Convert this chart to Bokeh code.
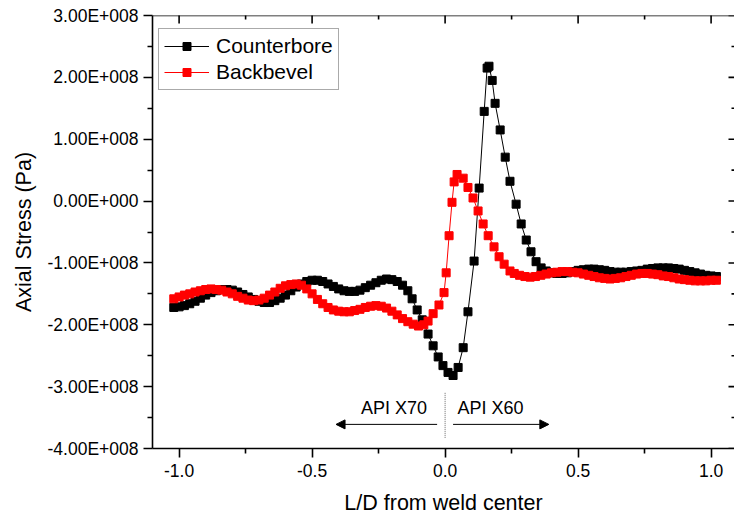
import numpy as np
from bokeh.plotting import figure
from bokeh.models import FixedTicker, Range1d, Arrow, NormalHead, Span
from bokeh.core.properties import value
from bokeh.embed import file_html
from bokeh.resources import INLINE

# ---------------- data (stress in units of 1E+008 Pa) ----------------
counterbore_x = [
    -1.02, -1.00, -0.98, -0.96, -0.94, -0.92, -0.90, -0.88, -0.86, -0.84,
    -0.82, -0.80, -0.78, -0.76, -0.74, -0.72, -0.70, -0.68, -0.66, -0.64,
    -0.62, -0.60, -0.58, -0.56, -0.54, -0.52, -0.50, -0.48, -0.46, -0.44,
    -0.42, -0.40, -0.38, -0.36, -0.34, -0.32, -0.30, -0.28, -0.26, -0.24,
    -0.22, -0.20, -0.18, -0.16, -0.14, -0.124, -0.105, -0.086, -0.064, -0.045,
    -0.026, -0.008, 0.011, 0.030, 0.049, 0.068, 0.086, 0.109, 0.128, 0.147,
    0.158, 0.165, 0.177, 0.188, 0.207, 0.226, 0.244, 0.267, 0.286, 0.305,
    0.323, 0.342, 0.361, 0.38, 0.40, 0.42, 0.44, 0.46, 0.48, 0.50,
    0.52, 0.54, 0.56, 0.58, 0.60, 0.62, 0.64, 0.66, 0.68, 0.70,
    0.72, 0.74, 0.76, 0.78, 0.80, 0.82, 0.84, 0.86, 0.88, 0.90,
    0.92, 0.94, 0.96, 0.98, 1.00, 1.02,
]
counterbore_y = [
    -1.72, -1.71, -1.69, -1.66, -1.62, -1.57, -1.52, -1.48, -1.45, -1.43,
    -1.43, -1.44, -1.47, -1.51, -1.55, -1.59, -1.62, -1.64, -1.64, -1.61,
    -1.57, -1.52, -1.45, -1.39, -1.34, -1.30, -1.28, -1.28, -1.30, -1.34,
    -1.38, -1.42, -1.45, -1.46, -1.46, -1.44, -1.40, -1.36, -1.32, -1.28,
    -1.26, -1.27, -1.30, -1.36, -1.45, -1.58, -1.76, -1.92, -2.15, -2.34,
    -2.52, -2.66, -2.77, -2.82, -2.69, -2.37, -1.79, -0.97, 0.21, 1.45,
    2.15, 2.18, 1.95, 1.58, 1.15, 0.71, 0.32, -0.05, -0.37, -0.63,
    -0.82, -0.98, -1.08, -1.13, -1.16, -1.17, -1.17, -1.16, -1.14, -1.12,
    -1.11, -1.10, -1.10, -1.11, -1.12, -1.14, -1.15, -1.15, -1.15, -1.14,
    -1.13, -1.12, -1.10, -1.09, -1.08, -1.08, -1.08, -1.09, -1.10, -1.12,
    -1.14, -1.16, -1.18, -1.20, -1.21, -1.22,
]
backbevel_x = [
    -1.02, -1.00, -0.98, -0.96, -0.94, -0.92, -0.90, -0.88, -0.86, -0.84,
    -0.82, -0.80, -0.78, -0.76, -0.74, -0.72, -0.70, -0.68, -0.66, -0.64,
    -0.62, -0.60, -0.58, -0.56, -0.54, -0.52, -0.50, -0.48, -0.46, -0.44,
    -0.42, -0.40, -0.38, -0.36, -0.34, -0.32, -0.30, -0.28, -0.26, -0.24,
    -0.22, -0.20, -0.18, -0.16, -0.14, -0.12, -0.10, -0.08,
    -0.064, -0.045, -0.023, -0.004, 0.004, 0.015, 0.026, 0.034, 0.045, 0.068,
    0.086, 0.105, 0.124, 0.143, 0.162, 0.184, 0.203, 0.222, 0.244,
    0.26, 0.28, 0.30, 0.32, 0.34, 0.36, 0.38, 0.40, 0.42, 0.44,
    0.46, 0.48, 0.50, 0.52, 0.54, 0.56, 0.58, 0.60, 0.62, 0.64,
    0.66, 0.68, 0.70, 0.72, 0.74, 0.76, 0.78, 0.80, 0.82, 0.84,
    0.86, 0.88, 0.90, 0.92, 0.94, 0.96, 0.98, 1.00, 1.02,
]
backbevel_y = [
    -1.58, -1.55, -1.52, -1.50, -1.47, -1.45, -1.43, -1.42, -1.43, -1.44,
    -1.47, -1.50, -1.54, -1.57, -1.60, -1.61, -1.60, -1.57, -1.52, -1.47,
    -1.41, -1.37, -1.35, -1.34, -1.36, -1.42, -1.50, -1.59, -1.66, -1.72,
    -1.76, -1.78, -1.79, -1.79, -1.77, -1.75, -1.72, -1.70, -1.69, -1.70,
    -1.73, -1.78, -1.84, -1.90, -1.95, -1.99, -2.02, -2.00,
    -1.94, -1.82, -1.68, -1.48, -1.16, -0.56, -0.02, 0.31, 0.43, 0.37,
    0.22, 0.05, -0.16, -0.37, -0.56, -0.74, -0.90, -1.02, -1.13,
    -1.17, -1.20, -1.22, -1.23, -1.22, -1.20, -1.18, -1.16, -1.15, -1.14,
    -1.14, -1.15, -1.16, -1.18, -1.20, -1.22, -1.24, -1.25, -1.26, -1.25,
    -1.24, -1.22, -1.20, -1.18, -1.17, -1.17, -1.18, -1.19, -1.21, -1.22,
    -1.24, -1.26, -1.27, -1.28, -1.29, -1.29, -1.29, -1.28, -1.28,
]
STRESS_UNIT = 1e8

x_ticks = [-1.0, -0.5, 0.0, 0.5, 1.0]
x_tick_labels = ["-1.0", "-0.5", "0.0", "0.5", "1.0"]
x_minor_ticks = [-0.75, -0.25, 0.25, 0.75]
y_ticks = [-4e8, -3e8, -2e8, -1e8, 0.0, 1e8, 2e8, 3e8]
y_tick_labels = ["-4.00E+008", "-3.00E+008", "-2.00E+008", "-1.00E+008",
                 "0.00E+000", "1.00E+008", "2.00E+008", "3.00E+008"]
y_minor_ticks = [-3.5e8, -2.5e8, -1.5e8, -0.5e8, 0.5e8, 1.5e8, 2.5e8]

# annotation ("API X70" / "API X60" with arrows and weld centre mark)
annot_text = ["API X70", "API X60"]
annot_x = [-0.192, 0.171]
annot_y = [-3.34e8, -3.34e8]
arrow_y = -3.61e8
arrow_left = (-0.03, -0.41)
arrow_right = (0.03, 0.39)
weld_mark_y = (-3.10e8, -3.84e8)

FONT = "Liberation Sans"
X_START, X_END = -1.1, 1.088
Y_START, Y_END = -4e8, 3e8

cb_y = np.array(counterbore_y) * STRESS_UNIT
bb_y = np.array(backbevel_y) * STRESS_UNIT

p = figure(width=734, height=523, output_backend="svg", toolbar_location=None,
           x_range=Range1d(X_START, X_END), y_range=Range1d(Y_START, Y_END),
           min_border_left=152, min_border_right=0, min_border_top=15,
           min_border_bottom=75,
           x_axis_label="L/D from weld center", y_axis_label="Axial Stress (Pa)")
p.outline_line_color = None
p.xgrid.visible = False
p.ygrid.visible = False
p.background_fill_color = "white"
p.border_fill_color = "white"

def style_axis(ax, ticks, minor, labels):
    ax.ticker = FixedTicker(ticks=ticks, minor_ticks=minor)
    ax.major_label_overrides = {float(t): l for t, l in zip(ticks, labels)}
    ax.axis_line_color = "black"
    ax.axis_line_width = 1.6
    ax.major_tick_line_color = "black"
    ax.minor_tick_line_color = "black"
    ax.major_tick_line_width = 1.6
    ax.minor_tick_line_width = 1.6
    ax.major_tick_in = 0
    ax.major_tick_out = 9
    ax.minor_tick_in = 0
    ax.minor_tick_out = 5
    ax.major_label_text_font = FONT
    ax.major_label_text_color = "black"
    ax.major_label_text_font_size = "17.5px"
    ax.axis_label_text_font = FONT
    ax.axis_label_text_font_size = "21.5px"
    ax.axis_label_text_font_style = "normal"
    ax.axis_label_text_color = "black"

xb = p.xaxis[0]
yl = p.yaxis[0]
style_axis(xb, x_ticks, x_minor_ticks, x_tick_labels)
style_axis(yl, y_ticks, y_minor_ticks, y_tick_labels)
xb.major_label_standoff = 6
xb.axis_label_standoff = 11
yl.major_label_standoff = 5
yl.axis_label_standoff = 9

# top spine and inward ticks on top / right edges (clipped to the frame)
p.add_layout(Span(location=Y_END, dimension="width", line_color="black",
                  line_width=1.6))
p.scatter(x=x_ticks, y=[Y_END] * len(x_ticks), marker="dash", angle=np.pi / 2,
          size=16, line_color="black", line_width=1.6)
p.scatter(x=x_minor_ticks, y=[Y_END] * len(x_minor_ticks), marker="dash",
          angle=np.pi / 2, size=8, line_color="black", line_width=1.6)
p.scatter(x=[X_END] * len(y_ticks), y=y_ticks, marker="dash", size=12,
          line_color="black", line_width=1.6)
p.scatter(x=[X_END] * len(y_minor_ticks), y=y_minor_ticks, marker="dash", size=6,
          line_color="black", line_width=1.6)

# series
p.line(counterbore_x, cb_y, line_color="black", line_width=1, legend_label="Counterbore")
p.scatter(counterbore_x, cb_y, marker="square", size=8, fill_color="black",
          line_color="black", legend_label="Counterbore")
p.line(backbevel_x, bb_y, line_color="#FF0000", line_width=1, legend_label="Backbevel")
p.scatter(backbevel_x, bb_y, marker="square", size=8, fill_color="#FF0000",
          line_color="#FF0000", legend_label="Backbevel")

# annotations
p.segment(x0=[0.0], y0=[weld_mark_y[0]], x1=[0.0], y1=[weld_mark_y[1]],
          line_color="#666666", line_width=1, line_dash="1 1")
p.add_layout(Arrow(end=NormalHead(size=9, fill_color="black", line_color="black"),
                   x_start=arrow_left[0], y_start=arrow_y,
                   x_end=arrow_left[1], y_end=arrow_y, line_width=1))
p.add_layout(Arrow(end=NormalHead(size=9, fill_color="black", line_color="black"),
                   x_start=arrow_right[0], y_start=arrow_y,
                   x_end=arrow_right[1], y_end=arrow_y, line_width=1))
p.text(x=annot_x, y=annot_y, text=annot_text, text_font=value(FONT),
       text_font_size="18px", text_align="center", text_baseline="middle",
       text_color="black")

# legend
lg = p.legend[0]
lg.location = (6, 358)
lg.label_text_font = FONT
lg.label_text_font_size = "21px"
lg.label_text_color = "black"
lg.glyph_width = 45
lg.glyph_height = 20
lg.label_height = 24
lg.label_standoff = 7
lg.spacing = 2
lg.padding = 5
lg.margin = 0
lg.border_line_color = "#555555"
lg.border_line_width = 1
lg.background_fill_color = "white"
lg.background_fill_alpha = 1.0

open("out.html", "w").write(file_html(p, INLINE))
